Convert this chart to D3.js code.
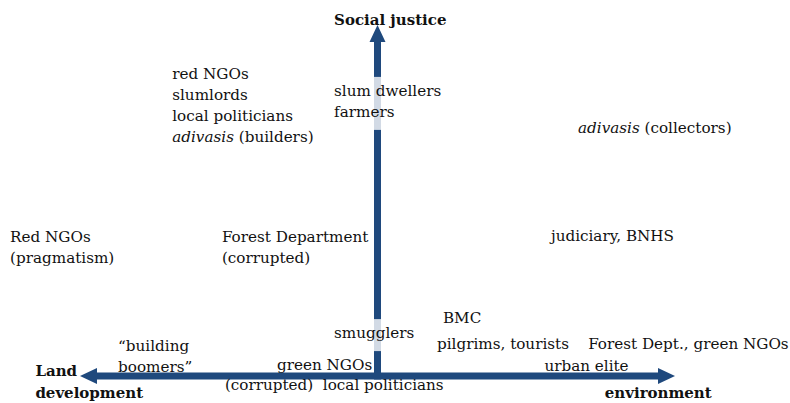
<!DOCTYPE html>
<html>
<head>
<meta charset="utf-8">
<script src="https://cdn.jsdelivr.net/npm/d3@7"></script>
<style>
  body { margin: 0; background: #fff; }
  svg text { font-family: "DejaVu Serif", "Liberation Serif", serif; font-size: 15.2px; fill: #111; white-space: pre; }
  svg text.title { font-size: 15px; font-weight: bold; }
</style>
</head>
<body>
<div id="map"></div>
<script>
// actors placed on the two axes: -100 = land development, +100 = environment,
// 0..100 = social justice. each label is a list of lines, a line a list of [text, italic]
const actors = [
    [[['red NGOs', 0]], [['slumlords', 0]], [['local politicians', 0]], [['adivasis', 1], [' (builders)', 0]]],
    [[['slum dwellers', 0]], [['farmers', 0]]],
    [[['adivasis', 1], [' (collectors)', 0]]],
    [[['Red NGOs', 0]], [['(pragmatism)', 0]]],
    [[['Forest Department', 0]], [['(corrupted)', 0]]],
    [[['judiciary, BNHS', 0]]],
    [[['smugglers', 0]]],
    [[['BMC', 0]]],
    [[['pilgrims, tourists', 0]]],
    [[['Forest Dept., green NGOs', 0]]],
    [[['urban elite', 0]]],
    [[['\u201cbuilding', 0]], [['boomers\u201d', 0]]],
    [[['green NGOs', 0]]],
    [[['(corrupted)  local politicians', 0]]]
];
const devEnv  = [-69, -14.6, 67.4, -123.5, -52.3, 58.3, -14.6, 22, 20, 70.8, 56.1, -87.2, -33.8, -51.3];
const justice = [84.6, 79.8, 69.2, 38.2, 38.2, 38.5, 10.8, 15.1, 7.7, 7.7, 1.4, 7.1, 1.7, -4.0];
// labels that sit on the vertical arrow get a light box behind them
const boxed = [1, 6];

const axisTitles = [
    { lines: ['Social justice'], x: -14.6, y: 100 },
    { lines: ['Land', 'development'], x: -115, y: 0 },
    { lines: ['environment'], x: 76.4, y: -6.3 }
];

const width = 790;
const height = 403;
const lineGap = 21;
const blue = '#1f497d';

const x = d3.scaleLinear().domain([-100, 100]).range([80, 675]);
const y = d3.scaleLinear().domain([0, 100]).range([376, 25]);

const svg = d3.select('#map')
    .append('svg')
    .attr('width', width)
    .attr('height', height);

const axes = svg.append('g');
const labels = svg.append('g');

// horizontal axis (two-headed), vertical axis (one head)
axes.append('line')
    .attr('x1', x(-100) + 10).attr('x2', x(100) - 10)
    .attr('y1', y(0)).attr('y2', y(0))
    .attr('stroke', blue).attr('stroke-width', 7);

axes.append('line')
    .attr('x1', x(0)).attr('x2', x(0))
    .attr('y1', y(0) + 3.5).attr('y2', y(100) + 10)
    .attr('stroke', blue).attr('stroke-width', 7);

const headLen = 17, headHalf = 8;
const heads = [
    [[x(-100), y(0)], [x(-100) + headLen, y(0) - headHalf], [x(-100) + headLen, y(0) + headHalf]],
    [[x(100), y(0)], [x(100) - headLen, y(0) - headHalf], [x(100) - headLen, y(0) + headHalf]],
    [[x(0), y(100)], [x(0) - headHalf, y(100) + headLen], [x(0) + headHalf, y(100) + headLen]]
];
axes.selectAll('polygon')
    .data(heads)
    .enter()
    .append('polygon')
    .attr('points', d => d.map(p => p.join(',')).join(' '))
    .attr('fill', blue);

// actor labels
actors.forEach((lines, i) => {
    const g = labels.append('g');
    const t = g.append('text')
        .attr('x', x(devEnv[i]))
        .attr('y', y(justice[i]));
    lines.forEach((parts, j) => {
        parts.forEach((p, k) => {
            const ts = t.append('tspan').text(p[0]);
            if (k === 0) ts.attr('x', x(devEnv[i])).attr('dy', j === 0 ? 0 : lineGap);
            if (p[1]) ts.style('font-style', 'italic');
        });
    });
    if (boxed.includes(i)) {
        const b = t.node().getBBox();
        g.insert('rect', 'text')
            .attr('x', b.x - 2).attr('y', b.y - 5)
            .attr('width', b.width + 4).attr('height', b.height + 14)
            .attr('fill', '#fff').attr('opacity', 0.8);
    }
});

// axis titles
axisTitles.forEach(a => {
    const t = labels.append('text')
        .attr('class', 'title')
        .attr('x', x(a.x))
        .attr('y', y(a.y));
    a.lines.forEach((l, j) => {
        t.append('tspan').text(l).attr('x', x(a.x)).attr('dy', j === 0 ? 0 : 22);
    });
});
</script>
</body>
</html>
